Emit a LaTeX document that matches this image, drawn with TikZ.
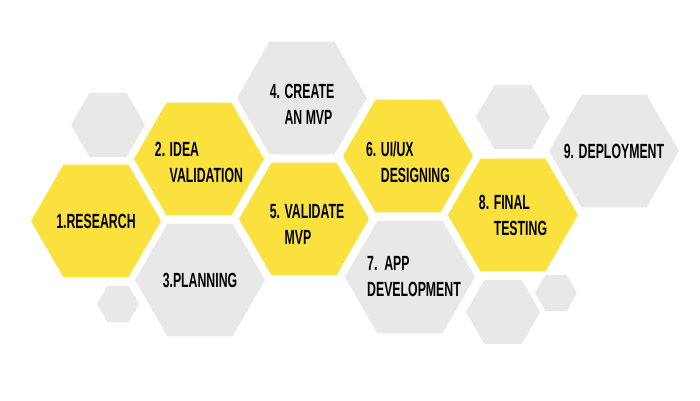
\documentclass[tikz,border=0pt]{standalone}
\usepackage{fontspec}
\usetikzlibrary{shapes.geometric}
\newfontfamily\hexfont[FakeStretch=0.6]{Liberation Sans}
\definecolor{hexyellow}{HTML}{FAE13D}
\definecolor{hexgrey}{HTML}{E8E8E8}

\begin{document}
\begin{tikzpicture}[
    x=1pt, y=-1pt,
    hex/.style={
        regular polygon,
        regular polygon sides=6,
        inner sep=0pt,
        outer sep=0pt,
        draw=none
    },
    stephex/.style={hex, fill=hexyellow, minimum size=130pt},
    greyhex/.style={hex, fill=hexgrey, minimum size=130pt},
    smallhex/.style={hex, fill=hexgrey, minimum size=74pt},
    tinyhex/.style={hex, fill=hexgrey, minimum size=42pt},
    steptext/.style={
        font=\hexfont\bfseries\fontsize{20.5}{26}\selectfont,
        align=left,
        inner sep=0pt
    }
]

% Canvas
\useasboundingbox (0,0) rectangle (700,400);

% Decorative hexagons
\node[smallhex] (s1) at (108,125) {};
\node[smallhex] (s2) at (513,117) {};
\node[smallhex] (s3) at (503,312) {};
\node[tinyhex] (r1) at (118,304) {};
\node[tinyhex] (r2) at (556,293) {};

% Step hexagons
\node[stephex] (h1) at (96,221) {};
\node[stephex] (h2) at (199,159) {};
\node[greyhex] (h3) at (200,280) {};
\node[greyhex] (h4) at (302,98) {};
\node[stephex] (h5) at (304,219) {};
\node[stephex] (h6) at (408,156) {};
\node[greyhex] (h7) at (410,277) {};
\node[stephex] (h8) at (513,215) {};
\node[greyhex] (h9) at (614,151) {};

% Step labels
\node[steptext] (t1) at (h1) {1.RESEARCH};
\node[steptext, yshift=-3pt] (t2) at (h2) {2. IDEA\\\phantom{2. }VALIDATION};
\node[steptext] (t3) at (h3) {3.PLANNING};
\node[steptext, yshift=-6pt] (t4) at (h4) {4. CREATE\\\phantom{4. }AN MVP};
\node[steptext, xshift=3pt, yshift=-6pt] (t5) at (h5) {5. VALIDATE\\\phantom{5. }MVP};
\node[steptext, yshift=-6pt] (t6) at (h6) {6. UI/UX\\\phantom{6. }DESIGNING};
\node[steptext, xshift=4pt] (t7) at (h7) {7.~~APP\\DEVELOPMENT};
\node[steptext] (t8) at (h8) {8. FINAL\\\phantom{8. }TESTING};
\node[steptext] (t9) at (h9) {9. DEPLOYMENT};

\end{tikzpicture}
\end{document}
